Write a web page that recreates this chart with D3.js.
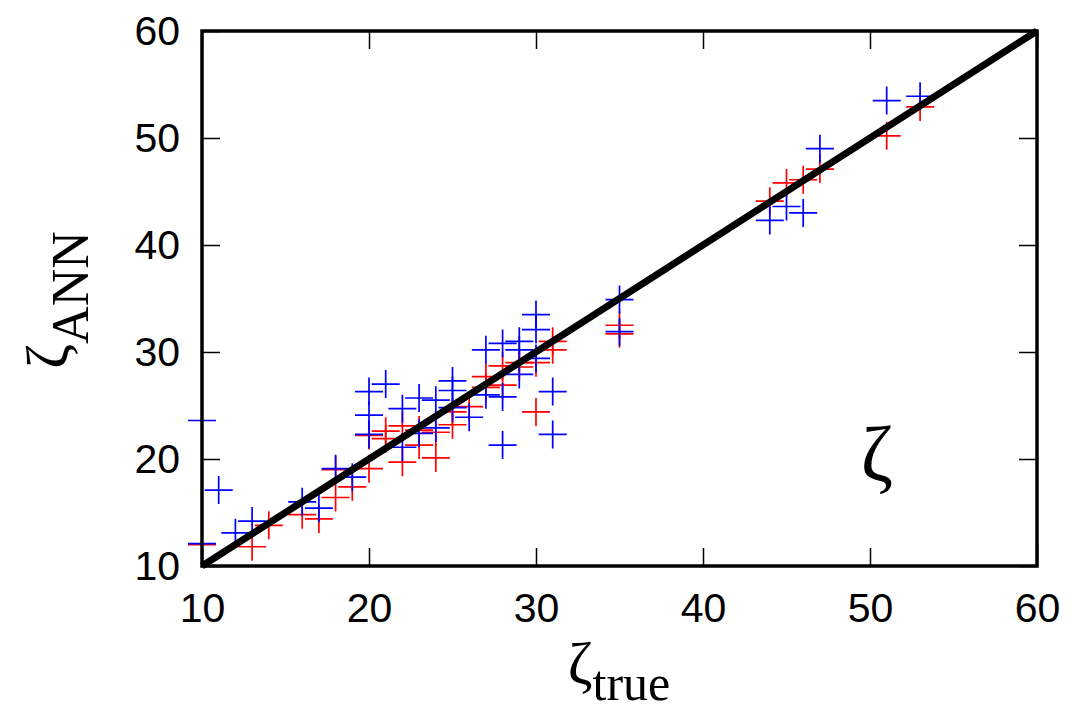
<!DOCTYPE html>
<html>
<head>
<meta charset="utf-8">
<script src="https://cdn.jsdelivr.net/npm/d3@7"></script>
<style>
  body { margin: 0; background: #fff; }
</style>
</head>
<body>
<div id="chart"></div>
<script>
// zeta_true / zeta_ANN, red set
const redTrue = [10, 13, 14, 16, 17, 18, 18, 19, 20, 20, 21, 21, 22, 22, 23, 23, 24, 24, 25, 25,
                 26, 27, 27, 28, 28, 29, 29, 30, 30, 31, 31, 35, 35, 44, 45, 46, 47, 51, 53];
const redAnn  = [12.0, 11.8, 13.8, 14.8, 14.4, 19.0, 16.4, 17.4, 19.1, 22.2, 22.6, 21.9, 19.7, 23.1, 21.3, 22.7, 20.1, 22.5, 24.4, 23.2,
                 24.9, 27.7, 26.7, 26.9, 28.7, 29.0, 28.6, 29.0, 24.4, 31.0, 30.2, 32.5, 31.7, 44.1, 45.8, 46.1, 47.1, 50.2, 52.9];

// blue set
const blueTrue = [10, 10, 11, 12, 13, 16, 17, 18, 19, 20, 20, 20, 21, 22, 22, 23, 23, 24, 24, 25, 25, 25,
                  26, 27, 27, 28, 28, 28, 29, 29, 29, 30, 30, 30, 31, 31, 35, 35, 44, 45, 46, 47, 51, 53];
const blueAnn  = [23.6, 12.1, 17.1, 13.1, 14.2, 16.0, 15.4, 19.1, 18.3, 26.3, 24.1, 22.3, 27.0, 24.7, 21.1, 25.7, 22.4, 25.5, 22.9, 27.3, 26.4, 24.8,
                  23.9, 30.2, 26.0, 30.8, 25.8, 21.3, 31.0, 30.2, 27.9, 33.5, 32.1, 29.4, 26.3, 22.3, 34.9, 31.9, 42.3, 43.6, 43.0, 49.0, 53.5, 53.9];

const ticks = [10, 20, 30, 40, 50, 60];
const diagonal = [10, 60];

const W = 1072, H = 712;
const margin = { left: 202, top: 31, right: 35, bottom: 146 };
const pw = W - margin.left - margin.right;
const ph = H - margin.top - margin.bottom;

const svg = d3.select("#chart").append("svg")
    .attr("width", W)
    .attr("height", H)
    .style("background", "#fff");

const g = svg.append("g").attr("transform", `translate(${margin.left},${margin.top})`);

const x = d3.scaleLinear().domain([10, 60]).range([0, pw]);
const y = d3.scaleLinear().domain([10, 60]).range([ph, 0]);

// axes (inward ticks, mirrored on top/right)
const tickFont = "'Liberation Sans', Arial, Helvetica, sans-serif";
function styleAxis(sel, labels) {
    sel.select(".domain").remove();
    sel.selectAll(".tick line").attr("stroke", "#000").attr("stroke-width", 1.5);
    sel.selectAll(".tick text")
        .attr("fill", "#000")
        .style("font-family", tickFont)
        .style("font-size", "41px");
    if (!labels) sel.selectAll(".tick text").remove();
}

g.append("g").attr("transform", `translate(0,${ph})`)
    .call(d3.axisBottom(x).tickValues(ticks).tickSize(-18).tickPadding(27))
    .call(s => styleAxis(s, true));
g.append("g")
    .call(d3.axisLeft(y).tickValues(ticks).tickSize(-18).tickPadding(22))
    .call(s => styleAxis(s, true));
g.append("g")
    .call(d3.axisTop(x).tickValues(ticks).tickSize(-18))
    .call(s => styleAxis(s, false));
g.append("g").attr("transform", `translate(${pw},0)`)
    .call(d3.axisRight(y).tickValues(ticks).tickSize(-18))
    .call(s => styleAxis(s, false));

// crosses
const half = 14;
function drawCrosses(xs, ys, color) {
    const pts = xs.map((v, i) => [v, ys[i]]);
    g.append("g").selectAll("path")
        .data(pts)
        .enter()
        .append("path")
        .attr("d", d => {
            const cx = x(d[0]), cy = y(d[1]);
            return `M${cx - half},${cy}H${cx + half}M${cx},${cy - half}V${cy + half}`;
        })
        .attr("stroke", color)
        .attr("stroke-width", 1.7)
        .attr("fill", "none");
}
drawCrosses(redTrue, redAnn, "#ff0000");
drawCrosses(blueTrue, blueAnn, "#0000ff");

// y = x line
g.append("line")
    .attr("x1", x(diagonal[0])).attr("y1", y(diagonal[0]))
    .attr("x2", x(diagonal[1])).attr("y2", y(diagonal[1]))
    .attr("stroke", "#000")
    .attr("stroke-width", 7);

// frame
g.append("rect")
    .attr("width", pw).attr("height", ph)
    .attr("fill", "none")
    .attr("stroke", "#000")
    .attr("stroke-width", 3.5);

// labels
const serif = "'Liberation Serif', 'Times New Roman', serif";

const xl = svg.append("text")
    .attr("x", 619).attr("y", 683)
    .attr("text-anchor", "middle")
    .style("font-family", serif)
    .attr("fill", "#000");
xl.append("tspan").style("font-size", "60px").text("ζ");
xl.append("tspan").style("font-size", "50px").attr("dy", 17).text("true");

const yl = svg.append("text")
    .attr("transform", "translate(67,300) rotate(-90)")
    .attr("text-anchor", "middle")
    .style("font-family", serif)
    .attr("fill", "#000");
yl.append("tspan").style("font-size", "60px").text("ζ");
yl.append("tspan").style("font-size", "52px").attr("dy", 21).text("ANN");

g.append("text")
    .attr("x", 877 - margin.left).attr("y", 480 - margin.top)
    .attr("text-anchor", "middle")
    .style("font-family", serif)
    .style("font-size", "78px")
    .attr("fill", "#000")
    .text("ζ");
</script>
</body>
</html>
